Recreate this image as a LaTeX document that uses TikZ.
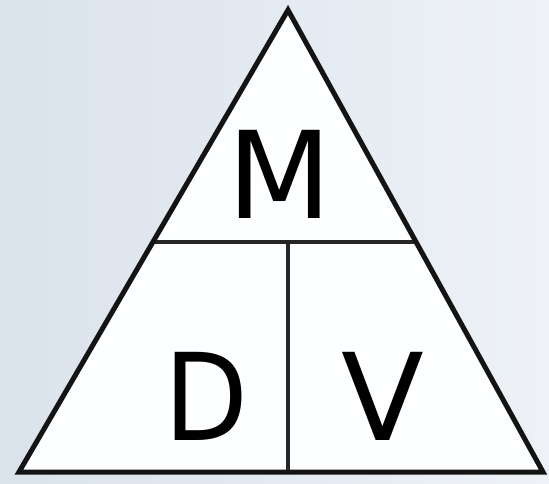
\documentclass[tikz,border=0pt]{standalone}
\usepackage{fontspec}
\setmainfont{DejaVu Sans}
\usetikzlibrary{calc}
\definecolor{bgleft}{RGB}{218,226,236}
\definecolor{bgright}{RGB}{238,242,247}
\definecolor{trifill}{RGB}{253,254,255}
\tikzset{
  edge/.style={line width=5pt, draw=black!92, line join=miter},
  divider/.style={line width=4.5pt, draw=black!85},
  letter/.style={font=\fontsize{121}{121}\selectfont, inner sep=0pt, anchor=base}
}
\begin{document}
\begin{tikzpicture}[x=1pt,y=1pt]
\useasboundingbox (0,0) rectangle (549,483);
\shade[left color=bgleft, right color=bgright] (0,0) rectangle (549,483);
\coordinate (apex) at (288,473);
\coordinate (bl) at (19,11);
\coordinate (br) at (543,11);
\coordinate (hl) at ($(apex)!0.502!(bl)$);
\coordinate (hr) at ($(apex)!0.502!(br)$);
\coordinate (vt) at (288,241);
\coordinate (vb) at (288,11);
\fill[trifill] (apex) -- (bl) -- (br) -- cycle;
\draw[divider] (hl) -- (hr);
\draw[divider] (vt) -- (vb);
\draw[edge] (apex) -- (bl) -- (br) -- cycle;
\node[letter] (m) at (280,265) {M};
\node[letter, xscale=0.9] (d) at (206,43) {D};
\node[letter] (v) at (383,43) {V};
\end{tikzpicture}
\end{document}
